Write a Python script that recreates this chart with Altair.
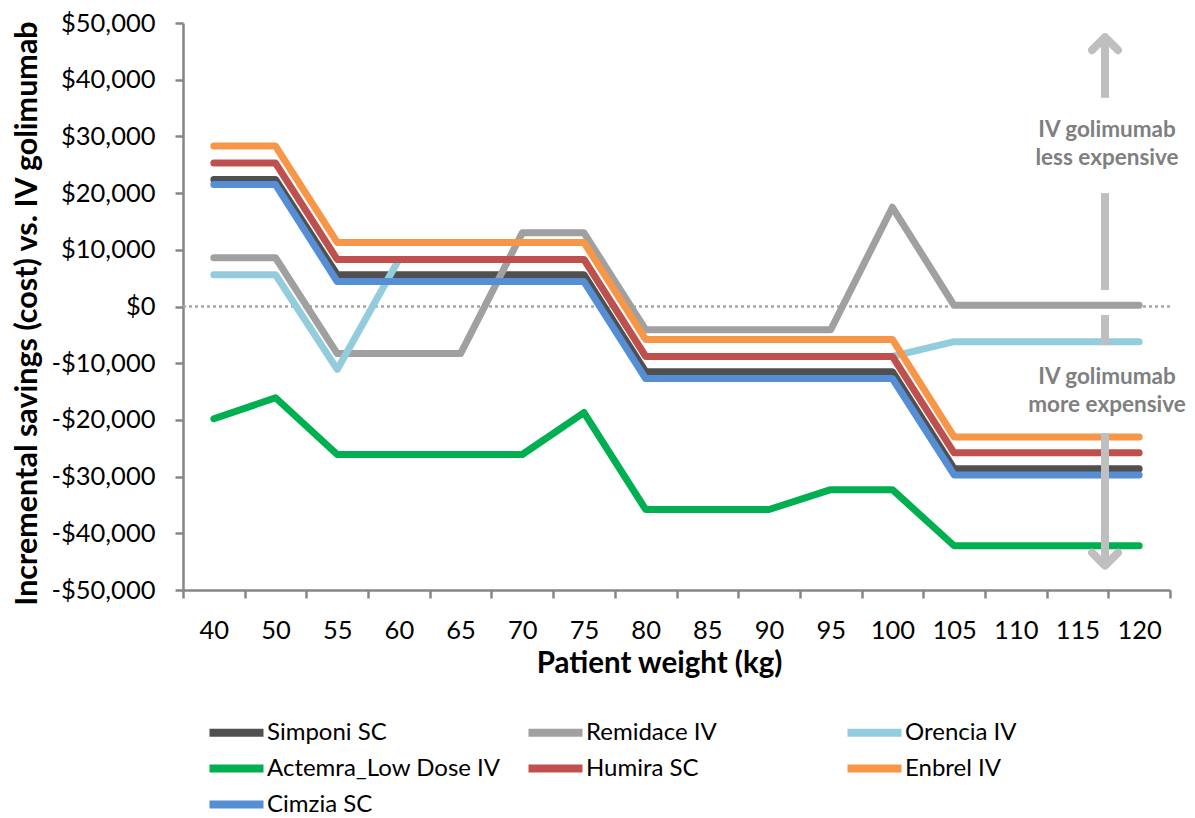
import altair as alt
import pandas as pd

weights = ["40", "50", "55", "60", "65", "70", "75", "80", "85", "90", "95", "100", "105", "110", "115", "120"]

series_names = ["Simponi SC", "Remidace IV", "Orencia IV", "Actemra_Low Dose IV", "Humira SC", "Enbrel IV", "Cimzia SC"]
series_colors = ["#505050", "#A0A0A0", "#93CDDD", "#00B050", "#C0504D", "#F79646", "#558ED5"]

simponi = [22400, 22400, 5600, 5600, 5600, 5600, 5600, -11500, -11500, -11500, -11500, -11500, -28600, -28600, -28600, -28600]
remidace = [8600, 8600, -8300, -8300, -8300, 13000, 13000, -4100, -4100, -4100, -4100, 17500, 200, 200, 200, 200]
orencia = [5600, 5600, -11100, 8300, 8300, 8300, 8300, -8800, -8800, -8800, -8800, -8800, -6200, -6200, -6200, -6200]
actemra = [-19800, -16100, -26100, -26100, -26100, -26100, -18700, -35800, -35800, -35800, -32300, -32300, -42200, -42200, -42200, -42200]
humira = [25300, 25300, 8300, 8300, 8300, 8300, 8300, -8800, -8800, -8800, -8800, -8800, -25800, -25800, -25800, -25800]
enbrel = [28300, 28300, 11300, 11300, 11300, 11300, 11300, -5800, -5800, -5800, -5800, -5800, -23000, -23000, -23000, -23000]
cimzia = [21500, 21500, 4400, 4400, 4400, 4400, 4400, -12700, -12700, -12700, -12700, -12700, -29700, -29700, -29700, -29700]

series_values = [simponi, remidace, orencia, actemra, humira, enbrel, cimzia]

y_ticks = [-50000, -40000, -30000, -20000, -10000, 0, 10000, 20000, 30000, 40000, 50000]

# annotation (arrows and notes) in data units of the y axis
note_texts = ["IV golimumab", "less expensive", "IV golimumab", "more expensive"]
note_y = [31100, 26200, -12400, -17300]
arrow_y1 = [47500, 20000, -1500, -22300]
arrow_y2 = [36800, 2900, -6800, -45700]
head_up_y = [47500]
head_down_y = [-45700]

FONT = "Lato"
AX = "#868686"
ARROW = "#BFBFBF"
ARROW_X = 922

rows = []
for name, vals in zip(series_names, series_values):
    for w, v in zip(weights, vals):
        rows.append({"weight": w, "value": v, "series": name})
df = pd.DataFrame(rows)

x_enc = alt.X(
    "weight:O",
    sort=weights,
    bandPosition=0.5,
    scale=alt.Scale(type="band", paddingInner=0, paddingOuter=0),
    axis=alt.Axis(
        title="Patient weight (kg)",
        labelAngle=0,
        tickBand="extent",
        domainColor=AX, domainWidth=2.5,
        tickColor=AX, tickWidth=2.5, tickSize=8,
        labelFont=FONT, labelFontSize=25.5, labelColor="black", labelPadding=20,
        titleFont=FONT, titleFontSize=29.5, titleFontWeight="bold", titleColor="black",
        titleX=476, titleY=73, titleAlign="center", titleBaseline="middle",
        grid=False,
    ),
)

y_enc = alt.Y(
    "value:Q",
    scale=alt.Scale(domain=[-50000, 50000], nice=False, zero=False),
    axis=alt.Axis(
        title="Incremental savings (cost) vs. IV golimumab",
        values=y_ticks,
        labelExpr="(datum.value < 0 ? '-' : '') + '$' + format(abs(datum.value), ',')",
        domainColor=AX, domainWidth=2.5,
        tickColor=AX, tickWidth=2.5, tickSize=8,
        labelFont=FONT, labelFontSize=25.5, labelColor="black", labelPadding=20,
        titleFont=FONT, titleFontSize=30.5, titleFontWeight="bold", titleColor="black",
        titleX=-156, titleY=290, titleAngle=-90, titleAlign="center", titleBaseline="middle",
        grid=False,
    ),
)

color_enc = alt.Color(
    "series:N",
    sort=series_names,
    scale=alt.Scale(domain=series_names, range=series_colors),
    legend=alt.Legend(
        title=None,
        orient="none",
        legendX=22,
        legendY=692,
        direction="horizontal",
        columns=3,
        gridAlign="all",
        columnPadding=11,
        rowPadding=2,
        symbolType="M-2,0L2,0",
        symbolSize=729,
        symbolStrokeWidth=8,
        symbolOffset=14,
        labelOffset=13,
        labelLimit=500,
        labelFont=FONT,
        labelFontSize=24,
        labelColor="black",
    ),
)

zero_df = pd.DataFrame({"value": [0]})
zero_line = alt.Chart(zero_df).mark_rule(color="#A6A6A6", strokeWidth=2.5, strokeDash=[3, 3]).encode(y="value:Q")

layers = [zero_line]
for name in series_names:
    layers.append(
        alt.Chart(df)
        .transform_filter(alt.datum.series == name)
        .mark_line(strokeWidth=7, strokeCap="round", strokeJoin="round")
        .encode(x=x_enc, y=y_enc, color=color_enc)
    )

arrow_df = pd.DataFrame({"y1": arrow_y1, "y2": arrow_y2})
arrows = alt.Chart(arrow_df).mark_rule(color=ARROW, strokeWidth=8).encode(
    x=alt.value(ARROW_X), y="y1:Q", y2="y2:Q"
)

up_df = pd.DataFrame({"y": head_up_y})
up_head = alt.Chart(up_df).mark_point(
    shape="M-1,1L0,0L1,1", size=676, filled=False, stroke=ARROW, strokeWidth=8,
    strokeCap="round", strokeJoin="round", opacity=1,
).encode(x=alt.value(ARROW_X), y="y:Q")

down_df = pd.DataFrame({"y": head_down_y})
down_head = alt.Chart(down_df).mark_point(
    shape="M-1,-1L0,0L1,-1", size=676, filled=False, stroke=ARROW, strokeWidth=8,
    strokeCap="round", strokeJoin="round", opacity=1,
).encode(x=alt.value(ARROW_X), y="y:Q")

note_df = pd.DataFrame({"text": note_texts, "y": note_y})
notes = alt.Chart(note_df).mark_text(
    font=FONT, fontSize=22.5, fontWeight="bold", color="#7F7F7F", align="center", baseline="middle"
).encode(x=alt.value(ARROW_X + 2), y="y:Q", text="text:N")

layers += [arrows, up_head, down_head, notes]

chart = (
    alt.layer(*layers)
    .properties(
        width=987,
        height=567,
        autosize=alt.AutoSizeParams(type="none"),
        padding={"left": 175, "top": 15, "right": 17, "bottom": 240},
    )
    .configure_view(stroke=None)
)

chart.save("out.html", embed_options={"renderer": "svg", "actions": False})
